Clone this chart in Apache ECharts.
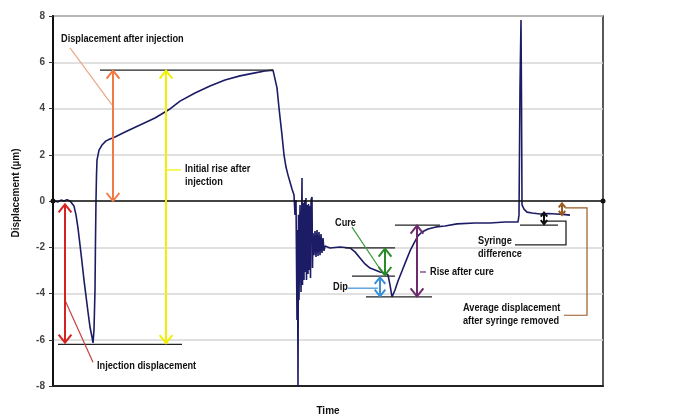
<!DOCTYPE html>
<html>
<head>
<meta charset="utf-8">
<script src="https://cdn.jsdelivr.net/npm/echarts@6/dist/echarts.min.js"></script>
<style>
  html, body { margin: 0; padding: 0; background: #fff; }
  #chart { width: 680px; height: 417px; }
</style>
</head>
<body>
<div id="chart"></div>
<script>
// 时间轴是任意单位 (0..550)，纵轴单位 µm
var yTicks = [-8, -6, -4, -2, 0, 2, 4, 6, 8];

// 位移曲线 [time, displacement]
var trace = [
  [2, 0], [5, -0.04], [8, 0.04], [11, 0], [14, 0.06], [17, 0], [19, -0.04],
  [21, -0.22], [23, -0.6], [25, -1.17], [27, -1.9], [29, -2.64], [31, -3.42],
  [33, -4.11], [35, -4.8], [37, -5.45], [39, -5.88], [40, -6.14],
  [41, -5.58], [42, -3.85], [42.5, -1.69], [43, 0.04], [43.5, 1.12], [44, 1.77],
  [46, 2.2], [49, 2.42], [53, 2.6], [57, 2.68], [62, 2.77], [72, 2.98],
  [87, 3.29], [102, 3.59], [112, 3.85], [117, 3.98], [127, 4.32], [142, 4.67],
  [157, 4.97], [172, 5.23], [187, 5.41], [202, 5.54], [212, 5.62], [220, 5.66],
  [222, 5.58], [224, 4.89], [226, 4.02], [229, 2.85], [231, 1.99], [233, 1.47],
  [235, 1.12], [237, 0.82], [239, 0.52], [241, 0.26],
  [242, -0.6], [243, 0.04], [244, -5.15], [244.5, -1.25], [245, -8.2], [245.5, -0.6],
  [246, -4.28], [247, -0.17], [248, -3.94], [249, 0.99], [249.5, -3.63], [250, -0.09],
  [251, -3.42], [251.5, 0.04], [252, -3.07], [253, 0.13], [253.5, -3.42], [254, -0.17],
  [255, -3.16], [255.5, -0.13], [256, -2.98], [257, -0.22], [257.5, -3.33], [258, 0.04],
  [259, 0.17], [259.5, -2.9], [260, -1.38], [261, -2.34], [262, -1.3], [263, -2.42],
  [264, -1.25], [265, -2.38], [266, -1.34], [267, -2.34], [268, -1.43], [269, -2.25],
  [270, -1.6], [271, -2.16], [272, -1.95],
  [277, -2.03], [287, -1.99], [297, -2.03], [302, -2.2], [307, -2.46], [312, -2.72],
  [317, -2.9], [322, -2.98], [327, -3.07], [332, -3.11], [335, -3.2],
  [337, -3.63], [339, -4.15],
  [342, -3.85], [345, -3.46], [349, -3.03], [353, -2.59], [357, -2.16], [361, -1.82],
  [365, -1.51], [369, -1.34], [375, -1.21], [383, -1.12], [392, -1.08], [404, -0.99],
  [422, -0.95], [437, -0.95], [452, -0.91], [465, -0.91],
  [466, -0.6], [467, 4.93], [468, 7.83], [468.5, 4.37], [469, -0.17],
  [471, -0.35], [474, -0.48], [479, -0.52], [487, -0.56], [495, -0.54], [503, -0.56],
  [510, -0.58], [517, -0.61]
];

// 参考横线 / 括号线 (黑色)
var refLines = [
  [[47, 5.66], [220, 5.66]],
  [[5, -6.2], [129, -6.2]],
  [[292, -2.03], [342, -2.03]],
  [[299, -3.25], [342, -3.25]],
  [[313, -4.15], [379, -4.15]],
  [[342, -1.04], [387, -1.04]],
  [[467, -1.04], [505, -1.04]],
  [[490, -0.87], [513, -0.87], [513, -1.9], [462, -1.9]]
];

// 双向箭头 [time, from, to]
var arrows = [
  [12, -0.15, -6.12],
  [60, 5.64, 0.0],
  [113, 5.64, -6.15],
  [332, -2.06, -3.2],
  [327, -3.3, -4.12],
  [364, -1.06, -4.12],
  [491, -1.0, -0.5],
  [509, -0.1, -0.6]
];
var arrowColors = ['#d42222', '#f07a45', '#f2f000', '#2a8a2a', '#3a8fd8', '#6e2a6e', '#111111', '#9a5a22'];

// 引线
var leaders = [
  [[17, 6.62], [59, 4.16]],
  [[113, 1.34], [128, 1.34]],
  [[12, -4.29], [40, -6.97]],
  [[299, -1.13], [331, -3.2]],
  [[295, -3.77], [325, -3.77]],
  [[367, -3.07], [373, -3.07]],
  [[512, -0.3], [534, -0.3], [534, -4.94], [511, -4.94]]
];
var leaderColors = ['#eaa888', '#f2f000', '#c84040', '#3a9a3a', '#3a8fd8', '#6e2a6e', '#9a5a22'];

// 文字说明 [time, displacement, text]
var notes = [
  [8, 7.0, 'Displacement after injection'],
  [132, 1.1, 'Initial rise after\ninjection'],
  [44, -7.13, 'Injection displacement'],
  [282, -0.95, 'Cure'],
  [280, -3.72, 'Dip'],
  [377, -3.07, 'Rise after cure'],
  [425, -2.01, 'Syringe\ndifference'],
  [410, -4.91, 'Average displacement\nafter syringe removed']
];

var FONT = "'Liberation Sans', Arial, sans-serif";

function polyItem(pts, color, width, api) {
    return {
        type: 'polyline',
        shape: { points: pts.map(function (p) { return api.coord(p); }) },
        style: { stroke: color, lineWidth: width, fill: null }
    };
}

var myChart = echarts.init(document.getElementById('chart'));
var option = {
    backgroundColor: '#fff',
    animation: false,
    grid: {
        left: 53, right: 77, top: 16, bottom: 31,
        outerBoundsMode: 'none',
        show: true, borderColor: '#222', borderWidth: 1.5
    },
    xAxis: {
        type: 'value', min: 0, max: 550,
        name: 'Time', nameLocation: 'middle', nameGap: 20,
        nameTextStyle: { fontFamily: FONT, fontWeight: 'bold', fontSize: 10, color: '#111' },
        axisLine: { onZero: false, lineStyle: { color: '#222', width: 2 } },
        axisTick: { show: false },
        axisLabel: { show: false },
        splitLine: { show: false }
    },
    yAxis: {
        type: 'value', min: -8, max: 8, interval: 2,
        name: 'Displacement (µm)', nameLocation: 'middle', nameGap: 32,
        nameTextStyle: { fontFamily: FONT, fontWeight: 'bold', fontSize: 10, color: '#111', padding: [0, 0, 0, 16] },
        axisLine: { show: true, lineStyle: { color: '#111', width: 2 } },
        axisTick: { show: true, inside: false, length: 4, lineStyle: { color: '#333' } },
        axisLabel: {
            margin: 8, fontFamily: FONT, fontWeight: 'bold', fontSize: 10, color: '#444',
            formatter: function (v) { return yTicks.indexOf(v) >= 0 ? String(v) : ''; }
        },
        splitLine: { show: true, lineStyle: { color: '#d6d6d6', width: 1.5 } }
    },
    series: [
        {
            type: 'line',
            data: trace,
            showSymbol: false,
            z: 3,
            lineStyle: { color: '#1c1c66', width: 1.6 },
            markLine: {
                silent: true,
                symbol: ['circle', 'circle'],
                symbolSize: 5,
                label: { show: false },
                lineStyle: { color: '#111', width: 1.5, type: 'solid' },
                data: [{ yAxis: 0 }]
            }
        },
        {
            // 参考横线
            type: 'custom', z: 4, silent: true,
            data: refLines.map(function (l) { return l[0]; }),
            renderItem: function (params, api) {
                return polyItem(refLines[params.dataIndex], '#222', 1.3, api);
            }
        },
        {
            // 引线
            type: 'custom', z: 4, silent: true,
            data: leaders.map(function (l) { return l[0]; }),
            renderItem: function (params, api) {
                return polyItem(leaders[params.dataIndex], leaderColors[params.dataIndex], 1.2, api);
            }
        },
        {
            // 箭头
            type: 'custom', z: 5, silent: true,
            data: arrows.map(function (a) { return [a[0], a[1]]; }),
            renderItem: function (params, api) {
                var a = arrows[params.dataIndex];
                var c = arrowColors[params.dataIndex];
                var p1 = api.coord([a[0], a[1]]);
                var p2 = api.coord([a[0], a[2]]);
                var len = Math.abs(p2[1] - p1[1]);
                var h = Math.min(8, len * 0.35), w = h * 0.8;
                var s = p2[1] > p1[1] ? 1 : -1;
                return {
                    type: 'group',
                    children: [
                        { type: 'line', shape: { x1: p1[0], y1: p1[1], x2: p2[0], y2: p2[1] },
                          style: { stroke: c, lineWidth: 2 } },
                        { type: 'polyline', shape: { points: [[p1[0] - w, p1[1] + s * h], p1, [p1[0] + w, p1[1] + s * h]] },
                          style: { stroke: c, lineWidth: 2, fill: null } },
                        { type: 'polyline', shape: { points: [[p2[0] - w, p2[1] - s * h], p2, [p2[0] + w, p2[1] - s * h]] },
                          style: { stroke: c, lineWidth: 2, fill: null } }
                    ]
                };
            }
        },
        {
            // 文字 (窄体字, 横向压缩)
            type: 'custom', z: 6, silent: true,
            data: notes.map(function (n) { return [n[0], n[1]]; }),
            renderItem: function (params, api) {
                var n = notes[params.dataIndex];
                var p = api.coord([n[0], n[1]]);
                return {
                    type: 'text',
                    x: p[0], y: p[1], scaleX: 0.8,
                    style: {
                        text: n[2], x: 0, y: 0,
                        fill: '#111', fontSize: 11.5, fontWeight: 'bold', fontFamily: FONT,
                        align: 'left', verticalAlign: 'middle', lineHeight: 13
                    }
                };
            }
        }
    ]
};
myChart.setOption(option);
</script>
</body>
</html>
